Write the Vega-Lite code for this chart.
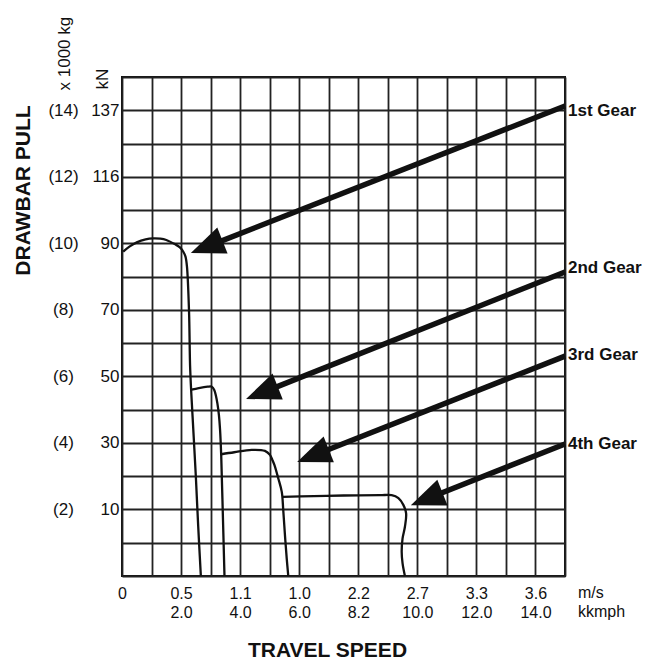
{
  "$schema": "https://vega.github.io/schema/vega-lite/v6.json",
  "width": 443,
  "height": 499,
  "autosize": {"type": "none"},
  "padding": {"left": 122, "top": 77, "right": 92, "bottom": 85},
  "background": "white",
  "config": {
    "font": "Liberation Sans",
    "view": {"stroke": "#111", "strokeWidth": 2},
    "axis": {"labelFont": "Liberation Sans", "titleFont": "Liberation Sans", "labelColor": "#111", "titleColor": "#111"}
  },
  "datasets": {
    "curves": [
      {"gear": "1st", "i": 1, "speed": 0.04, "pull": 9.75},
      {"gear": "1st", "i": 2, "speed": 0.25, "pull": 9.9},
      {"gear": "1st", "i": 3, "speed": 0.5, "pull": 10.03},
      {"gear": "1st", "i": 4, "speed": 0.8, "pull": 10.12},
      {"gear": "1st", "i": 5, "speed": 1.06, "pull": 10.15},
      {"gear": "1st", "i": 6, "speed": 1.3, "pull": 10.14},
      {"gear": "1st", "i": 7, "speed": 1.5, "pull": 10.1},
      {"gear": "1st", "i": 8, "speed": 1.8, "pull": 9.97},
      {"gear": "1st", "i": 9, "speed": 1.96, "pull": 9.88},
      {"gear": "1st", "i": 10, "speed": 2.08, "pull": 9.74},
      {"gear": "1st", "i": 11, "speed": 2.15, "pull": 9.6},
      {"gear": "1st", "i": 12, "speed": 2.2, "pull": 9.3},
      {"gear": "1st", "i": 13, "speed": 2.27, "pull": 7.94},
      {"gear": "1st", "i": 14, "speed": 2.31, "pull": 6.19},
      {"gear": "1st", "i": 15, "speed": 2.39, "pull": 4.79},
      {"gear": "1st", "i": 16, "speed": 2.5, "pull": 3.0},
      {"gear": "1st", "i": 17, "speed": 2.58, "pull": 1.5},
      {"gear": "1st", "i": 18, "speed": 2.67, "pull": 0},
      {"gear": "2nd", "i": 1, "speed": 2.35, "pull": 5.6},
      {"gear": "2nd", "i": 2, "speed": 2.6, "pull": 5.65},
      {"gear": "2nd", "i": 3, "speed": 2.9, "pull": 5.69},
      {"gear": "2nd", "i": 4, "speed": 3.04, "pull": 5.69},
      {"gear": "2nd", "i": 5, "speed": 3.12, "pull": 5.6},
      {"gear": "2nd", "i": 6, "speed": 3.18, "pull": 5.42},
      {"gear": "2nd", "i": 7, "speed": 3.23, "pull": 5.19},
      {"gear": "2nd", "i": 8, "speed": 3.28, "pull": 4.85},
      {"gear": "2nd", "i": 9, "speed": 3.32, "pull": 4.4},
      {"gear": "2nd", "i": 10, "speed": 3.36, "pull": 3.6},
      {"gear": "2nd", "i": 11, "speed": 3.41, "pull": 2.0},
      {"gear": "2nd", "i": 12, "speed": 3.47, "pull": 0},
      {"gear": "3rd", "i": 1, "speed": 3.36, "pull": 3.66},
      {"gear": "3rd", "i": 2, "speed": 3.8, "pull": 3.72},
      {"gear": "3rd", "i": 3, "speed": 4.39, "pull": 3.79},
      {"gear": "3rd", "i": 4, "speed": 4.84, "pull": 3.76},
      {"gear": "3rd", "i": 5, "speed": 5.01, "pull": 3.64},
      {"gear": "3rd", "i": 6, "speed": 5.1, "pull": 3.47},
      {"gear": "3rd", "i": 7, "speed": 5.16, "pull": 3.34},
      {"gear": "3rd", "i": 8, "speed": 5.29, "pull": 2.94},
      {"gear": "3rd", "i": 9, "speed": 5.41, "pull": 2.53},
      {"gear": "3rd", "i": 10, "speed": 5.46, "pull": 1.98},
      {"gear": "3rd", "i": 11, "speed": 5.52, "pull": 1.2},
      {"gear": "3rd", "i": 12, "speed": 5.58, "pull": 0.5},
      {"gear": "3rd", "i": 13, "speed": 5.63, "pull": 0},
      {"gear": "4th", "i": 1, "speed": 5.43, "pull": 2.38},
      {"gear": "4th", "i": 2, "speed": 6.5, "pull": 2.4},
      {"gear": "4th", "i": 3, "speed": 7.5, "pull": 2.42},
      {"gear": "4th", "i": 4, "speed": 8.74, "pull": 2.43},
      {"gear": "4th", "i": 5, "speed": 9.13, "pull": 2.43},
      {"gear": "4th", "i": 6, "speed": 9.36, "pull": 2.34},
      {"gear": "4th", "i": 7, "speed": 9.53, "pull": 2.13},
      {"gear": "4th", "i": 8, "speed": 9.62, "pull": 1.88},
      {"gear": "4th", "i": 9, "speed": 9.58, "pull": 1.48},
      {"gear": "4th", "i": 10, "speed": 9.5, "pull": 1.13},
      {"gear": "4th", "i": 11, "speed": 9.47, "pull": 0.73},
      {"gear": "4th", "i": 12, "speed": 9.5, "pull": 0.38},
      {"gear": "4th", "i": 13, "speed": 9.58, "pull": 0}
    ],
    "arrows": [
      {"gear": "1st Gear", "x_start": 15, "y_start": 14.13, "x_end": 2.9, "y_end": 9.91, "tip_x": 2.33, "tip_y": 9.71, "label_y": 13.98},
      {"gear": "2nd Gear", "x_start": 15, "y_start": 9.14, "x_end": 4.77, "y_end": 5.52, "tip_x": 4.2, "tip_y": 5.32, "label_y": 9.26},
      {"gear": "3rd Gear", "x_start": 15, "y_start": 6.61, "x_end": 6.5, "y_end": 3.63, "tip_x": 5.93, "tip_y": 3.43, "label_y": 6.64},
      {"gear": "4th Gear", "x_start": 15, "y_start": 3.97, "x_end": 10.35, "y_end": 2.33, "tip_x": 9.78, "tip_y": 2.13, "label_y": 3.97}
    ]
  },
  "layer": [
    {
      "data": {"name": "curves"},
      "mark": {"type": "line", "interpolate": "catmull-rom", "color": "#111", "strokeWidth": 2.3},
      "encoding": {
        "x": {
          "field": "speed", "type": "quantitative",
          "scale": {"domain": [0, 15], "nice": false, "zero": false},
          "axis": {
            "orient": "bottom",
            "values": [0,1,2,3,4,5,6,7,8,9,10,11,12,13,14,15],
            "grid": true, "gridColor": "#222", "gridWidth": 1.8, "gridOpacity": 1,
            "domain": false, "ticks": false, "tickSize": 0,
            "labelPadding": 9, "labelFontSize": 16,
            "labelFlush": false, "labelOverlap": false, "labelAlign": "center", "labelBaseline": "top",
            "labelExpr": "datum.value==0?'0':datum.value==2?'0.5':datum.value==4?'1.1':datum.value==6?'1.0':datum.value==8?'2.2':datum.value==10?'2.7':datum.value==12?'3.3':datum.value==14?'3.6':''",
            "title": null
          }
        },
        "y": {
          "field": "pull", "type": "quantitative",
          "scale": {"domain": [0, 15], "nice": false},
          "axis": {
            "orient": "left",
            "values": [0,1,2,3,4,5,6,7,8,9,10,11,12,13,14,15],
            "grid": true, "gridColor": "#222", "gridWidth": 1.8, "gridOpacity": 1,
            "domain": false, "ticks": false, "tickSize": 0,
            "labelPadding": 3, "labelFontSize": 17, "labelOverlap": false, "labelFlush": false, "labelBaseline": "middle",
            "labelExpr": "datum.value==2?'10':datum.value==4?'30':datum.value==6?'50':datum.value==8?'70':datum.value==10?'90':datum.value==12?'116':datum.value==14?'137':''",
            "title": "kN", "titleFontSize": 17, "titleFontWeight": "normal",
            "titleAngle": 270, "titleAlign": "left", "titleBaseline": "middle",
            "titleX": -20, "titleY": 12
          }
        },
        "detail": {"field": "gear"},
        "order": {"field": "i", "type": "quantitative"}
      }
    },
    {
      "data": {"name": "arrows"},
      "mark": {"type": "rule", "color": "#111", "strokeWidth": 5.5, "strokeCap": "butt"},
      "encoding": {
        "x": {
          "field": "x_start", "type": "quantitative",
          "scale": {"domain": [0, 15], "nice": false, "zero": false},
          "axis": {
            "orient": "bottom",
            "values": [0,1,2,3,4,5,6,7,8,9,10,11,12,13,14,15],
            "grid": false, "domain": false, "ticks": false, "tickSize": 0,
            "labelPadding": 28, "labelFontSize": 16,
            "labelFlush": false, "labelOverlap": false, "labelAlign": "center", "labelBaseline": "top",
            "labelExpr": "datum.value==2?'2.0':datum.value==4?'4.0':datum.value==6?'6.0':datum.value==8?'8.2':datum.value==10?'10.0':datum.value==12?'12.0':datum.value==14?'14.0':''",
            "title": "TRAVEL SPEED", "titleFontSize": 21, "titleFontWeight": "bold",
            "titleX": 205, "titleY": 74, "titleAlign": "center", "titleBaseline": "middle"
          }
        },
        "x2": {"field": "x_end"},
        "y": {
          "field": "y_start", "type": "quantitative",
          "scale": {"domain": [0, 15], "nice": false},
          "axis": {
            "orient": "left",
            "values": [0,1,2,3,4,5,6,7,8,9,10,11,12,13,14,15],
            "grid": false, "domain": false, "ticks": false, "tickSize": 0,
            "labelPadding": 59, "labelAlign": "center", "labelBaseline": "middle",
            "labelFontSize": 17, "labelOverlap": false, "labelFlush": false,
            "labelExpr": "(datum.value>0 && datum.value<15 && datum.value%2==0) ? '(' + datum.value + ')' : ''",
            "title": "x 1000 kg", "titleFontSize": 17, "titleFontWeight": "normal",
            "titleAngle": 270, "titleAlign": "left", "titleBaseline": "middle",
            "titleX": -58, "titleY": 13
          }
        },
        "y2": {"field": "y_end"}
      }
    },
    {
      "data": {"name": "arrows"},
      "mark": {"type": "point", "shape": "M0,0L2,-0.82L2,0.82Z", "size": 1156, "angle": 338.4, "filled": true, "color": "#111", "opacity": 1, "strokeWidth": 0},
      "encoding": {
        "x": {"field": "tip_x", "type": "quantitative", "axis": null, "scale": {"domain": [0, 15], "nice": false, "zero": false}},
        "y": {
          "field": "tip_y", "type": "quantitative",
          "scale": {"domain": [0, 15], "nice": false},
          "axis": {
            "orient": "left", "labels": false, "ticks": false, "domain": false, "grid": false,
            "title": "DRAWBAR PULL", "titleFontSize": 21, "titleFontWeight": "bold",
            "titleAngle": 270, "titleAlign": "center", "titleBaseline": "middle",
            "titleX": -99, "titleY": 113
          }
        }
      }
    },
    {
      "data": {"name": "arrows"},
      "mark": {"type": "text", "align": "left", "baseline": "middle", "dx": 3, "fontSize": 17, "fontWeight": "bold", "font": "Liberation Sans", "color": "#111"},
      "encoding": {
        "x": {"field": "x_start", "type": "quantitative", "axis": null},
        "y": {"field": "label_y", "type": "quantitative", "axis": null},
        "text": {"field": "gear"}
      }
    },
    {
      "data": {"values": [{"unit": "speed units"}]},
      "mark": {"type": "text", "align": "left", "baseline": "top", "dx": 13, "dy": 9, "fontSize": 16, "lineHeight": 19, "font": "Liberation Sans", "color": "#111"},
      "encoding": {
        "x": {"datum": 15, "type": "quantitative", "axis": null},
        "y": {"datum": 0, "type": "quantitative", "axis": null},
        "text": {"value": ["m/s", "kkmph"]}
      }
    }
  ],
  "resolve": {"axis": {"x": "independent", "y": "independent"}}
}
